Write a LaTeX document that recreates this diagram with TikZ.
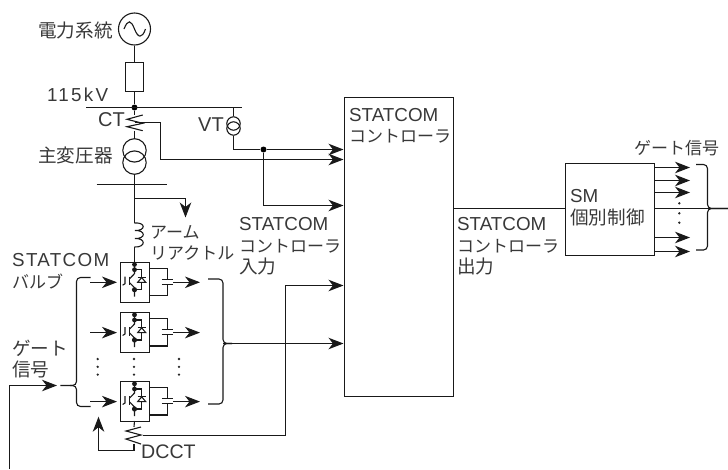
\documentclass[tikz,border=0pt]{standalone}
\usepackage{fontspec}
\setmainfont{Liberation Sans}
\newfontfamily\jpf{Noto Sans CJK JP}
\usetikzlibrary{arrows.meta}
\newcommand\Jp[1]{{\jpf\fontsize{17}{21.5}\selectfont #1}}
\newcommand\Jk[1]{{\jpf\fontsize{18.6}{21.5}\selectfont #1}}
\tikzset{
  wire/.style={draw=black!90,line width=1.1pt,line join=miter},
  flow/.style={wire,-{Stealth[length=15pt,width=11.5pt,inset=4.5pt]}},
  lbl/.style={inner sep=0pt,anchor=west,align=left,text=black!78,
    font=\fontsize{18.8}{21.5}\selectfont},
  widelbl/.style={lbl,font=\fontsize{18.8}{21.5}\selectfont\addfontfeatures{LetterSpace=12}},
  valvelbl/.style={lbl,font=\fontsize{18.8}{21.5}\selectfont\addfontfeatures{LetterSpace=7}},
  brace/.style={wire,rounded corners=4pt},
  dotj/.style={fill=black,circle,inner sep=0pt,minimum size=6pt},
  vdot/.style={fill=black!85,circle,inner sep=0pt,minimum size=2.6pt},
  ring/.style={wire,circle,inner sep=0pt},
  module/.pic={
    \node[wire,minimum width=29pt,minimum height=40pt,inner sep=0pt,anchor=north west] (-box) at (0,0) {};
    \fill[black!90] (14.5,2.8) circle (2.4pt) (14.5,8) circle (2.4pt) (14.5,28) circle (2.6pt);
    \draw[wire] (14.5,0) -- (14.5,12) -- (9.6,17);
    \draw[wire] (9.6,21) -- (14.5,26) -- (14.5,35);
    \draw[wire] (9.3,15) -- (9.3,23.5);
    \draw[wire] (5,15) -- (5,22) -- (2.6,23.5);
    \draw[wire] (14.5,8) -- (21.7,8) -- (21.7,28) -- (14.5,28);
    \draw[wire,fill=white] (21.7,15.8) -- (25.7,20.6) -- (17.7,20.6) -- cycle;
    \draw[wire] (17.5,15.6) -- (25.9,15.6);
    \draw[wire] (29,6.6) -- (47.3,6.6) -- (47.3,17.6) (41.8,17.6) -- (52.8,17.6);
    \draw[wire] (41.8,22.6) -- (52.8,22.6) (47.3,22.6) -- (47.3,34) -- (29,34);
    \coordinate (-in) at (-3,20.6);
    \coordinate (-west) at (-30,20.6);
    \coordinate (-cap) at (53,20.6);
    \coordinate (-out) at (80,20.6);
    \coordinate (-top) at (14.5,0);
    \coordinate (-bot) at (14.5,40);
  }
}
\begin{document}
\begin{tikzpicture}[x=1pt,y=-1pt]
\useasboundingbox (0,0) rectangle (728,469);

% ---- labels
\node[lbl] (tpow) at (38,30) {\Jk{電力系統}};
\node[widelbl] (t115) at (47,95) {115kV};
\node[lbl,font=\fontsize{20}{21.5}\selectfont] (tct) at (98,120) {CT};
\node[lbl,font=\fontsize{20}{21.5}\selectfont] (tvt) at (198,125) {VT};
\node[lbl] (tmain) at (38,155) {\Jk{主変圧器}};
\node[lbl] (tarm) at (150,243) {\Jp{アーム}\\\Jp{リアクトル}};
\node[valvelbl] (tvalve) at (12,271) {STATCOM\\\Jp{バルブ}};
\node[lbl] (tgate) at (12,359) {\Jk{ゲート}\\\Jk{信号}};
\node[lbl,font=\fontsize{19.6}{21.5}\selectfont] (tdcct) at (141,452) {DCCT};
\node[lbl] (tin) at (239,246.5) {STATCOM\\\Jp{コントローラ}\\\Jk{入力}};
\node[lbl] (tout) at (457,246.5) {STATCOM\\\Jp{コントローラ}\\\Jk{出力}};
\node[lbl] (tgate2) at (634,148) {\Jp{ゲート信号}};

% ---- main boxes
\node[wire,anchor=north west,minimum width=109pt,minimum height=299pt,inner sep=0pt] (ctrl) at (343.5,96.5) {};
\node[lbl] (tctrl) at (349,126) {STATCOM\\\Jp{コントローラ}};
\node[wire,anchor=north west,minimum width=89pt,minimum height=92pt,inner sep=0pt] (sm) at (564.5,162.5) {};
\node[lbl] (tsm) at (570,207.5) {SM\\\Jk{個別制御}};

% ---- source line
\node[ring,minimum size=32pt] (src) at (134.5,29) {};
\draw[wire] (124,29) .. controls (128,19) and (131,20) .. (134.5,29) .. controls (138,38) and (142,39) .. (145.5,29);
\node[wire,anchor=north,minimum width=17.5pt,minimum height=29pt,inner sep=0pt] (fuse) at (134.5,62) {};
\coordinate (busL) at (86,107.5);
\coordinate (busR) at (241.7,107.5);
\node[dotj] (busJ) at (134.5,107.5) {};
\draw[wire] (src) -- (fuse);
\draw[wire] (fuse) -- (busJ);
\draw[wire] (busL) -- (busR);

% ---- CT
\coordinate (ctT) at (134.5,115);
\coordinate (ctB) at (134.5,130.7);
\coordinate (ctO) at (134.5,122.5);
\draw[wire] (busJ) -- (ctT);
\draw[wire] (142.7,115) -- (127,119.3) -- (142.7,123.3) -- (127,126.7) -- (142.7,130.7);

% ---- main transformer
\node[ring,minimum size=23.4pt] (xa) at (134.5,150.4) {};
\node[ring,minimum size=23.4pt] (xb) at (134.5,162.6) {};
\draw[wire] (ctB) -- (xa.north);
\coordinate (lbL) at (96.7,184.5);
\coordinate (lbR) at (167,184.5);
\coordinate (lbJ) at (134.5,184.5);
\draw[wire] (lbL) -- (lbR);
\draw[wire] (xb.south) -- (lbJ);
\coordinate (brJ) at (134.5,198.5);
\coordinate (brE) at (185.5,217.5);
\coordinate (coilT) at (134.5,223);
\coordinate (coilB) at (134.5,247);
\draw[wire] (lbJ) -- (coilT);
\draw[flow] (brJ) -| (brE);
\draw[wire] (coilT) .. controls (146,222) and (146,231) .. (135,230.5)
  .. controls (146,230) and (146,239) .. (135,238.5)
  .. controls (146,238) and (146,247.5) .. (coilB);

% ---- VT
\node[ring,minimum size=13.4pt] (va) at (233.5,123.5) {};
\node[ring,minimum size=13.4pt] (vb) at (233.5,128.5) {};
\coordinate (vtT) at (233.5,107.5);
\draw[wire] (vtT) -- (va.north);
\node[dotj] (vJ) at (263.5,149.5) {};
\coordinate (c1) at (343.5,149.5);
\coordinate (c2) at (343.5,159.5);
\coordinate (c3) at (343.5,205.5);
\coordinate (c4) at (343.5,285.5);
\coordinate (c5) at (343.5,343.5);
\draw[wire] (vb.south) |- (vJ);
\draw[flow] (vJ) -- (c1);
\draw[flow] (vJ) |- (c3);
\draw[flow] (ctO) -- (160.5,122.5) |- (c2);

% ---- valve modules
\pic (m1) at (120,261.7) {module};
\pic (m2) at (120,312) {module};
\pic (m3) at (120,381) {module};
\draw[wire] (coilB) -- (m1-top);
\foreach \m in {m1,m2,m3}{
  \draw[flow] (\m-west) -- (\m-in);
  \draw[flow] (\m-cap) -- (\m-out);
}
\foreach \x/\n in {97.7/a,134/b,179/c}{
  \node[vdot] (d\n1) at (\x,359) {};
  \node[vdot] (d\n2) at (\x,366.8) {};
  \node[vdot] (d\n3) at (\x,374.6) {};
}

% ---- left bracket and gate signal
\coordinate (lbT) at (90.7,277.5);
\coordinate (lbB) at (90.7,406.5);
\coordinate (lbM) at (76.5,385.5);
\coordinate (lbTip) at (60.3,385.5);
\coordinate (lbIn) at (70,385.5);
\draw[brace] (lbT) -| (lbM) -- (lbTip);
\draw[brace] (lbB) -| (lbM) -- (lbIn);
\coordinate (gS) at (9.5,469);
\coordinate (gE) at (57,385.5);
\draw[flow] (gS) |- (gE);

% ---- right bracket
\coordinate (rbT) at (208,279);
\coordinate (rbB) at (208,404);
\coordinate (rbM) at (223,343.5);
\coordinate (rbO) at (232,343.5);
\draw[brace] (rbT) -| (rbM) -- (rbO);
\draw[brace] (rbB) -| (rbM) -- (rbO);
\draw[flow] (rbM) -- (c5);

% ---- DCCT
\coordinate (dT) at (134,427);
\coordinate (dB) at (134,450.5);
\coordinate (dO) at (142.7,435.5);
\coordinate (dA) at (98.5,416.7);
\draw[wire] (m3-bot) -- (dT);
\draw[wire] (141,427) -- (126,431) -- (141,435) -- (126,439) -- (141,444);
\draw[wire] (134,444) -- (dB);
\draw[flow] (dB) -| (dA);
\draw[flow] (dO) -- (285.5,435.5) |- (c4);

% ---- controller output and SM
\draw[wire] (ctrl.east |- 0,208.5) -- (sm.west |- 0,208.5);
\coordinate (gm) at (728,208.5);
\draw[wire] (sm.east |- 0,208.5) -- (gm);
\foreach \y/\n in {167.5/a,180.5/b,192.5/c,237.5/d,251.5/e}{
  \coordinate (so\n) at (690,\y);
  \draw[flow] (sm.east |- so\n) -- (so\n);
}
\node[vdot] (sd1) at (679.3,203.3) {};
\node[vdot] (sd2) at (679.3,213.3) {};
\node[vdot] (sd3) at (679.3,222.7) {};
\coordinate (gbM) at (707.5,208.5);
\coordinate (gbT) at (696,164.5);
\coordinate (gbB) at (696,250);
\draw[brace] (gbT) -| (gbM) -- (gm);
\draw[brace] (gbB) -| (gbM) -- (gm);
\end{tikzpicture}
\end{document}
